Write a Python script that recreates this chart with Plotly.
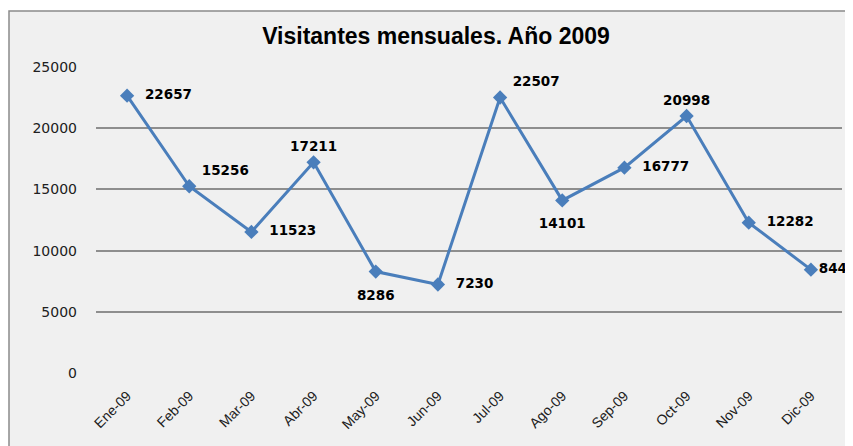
import plotly.graph_objects as go

months = ["Ene-09", "Feb-09", "Mar-09", "Abr-09", "May-09", "Jun-09",
          "Jul-09", "Ago-09", "Sep-09", "Oct-09", "Nov-09", "Dic-09"]
visitors = [22657, 15256, 11523, 17211, 8286, 7230,
            22507, 14101, 16777, 20998, 12282, 8443]
label_pos = ["middle right", "top right", "middle right", "top center",
             "bottom center", "middle right", "top right", "bottom center",
             "middle right", "top center", "middle right", "middle right"]
# labels that sit farther from their marker in the original
far_label = [True, False, True, False, True, True,
             False, True, True, False, True, False]
y_ticks = [0, 5000, 10000, 15000, 20000, 25000]
y_tick_text = ["0", "5000", "10000", "15000", "20000", "25000"]

# the page body has an 8px margin, so the figure starts at (8, 8)
OFF = 8
W, H = 853 - OFF, 446 - OFF
L, R = 96 - OFF, 11
T = 67 - OFF
B = H - (373 - OFF)
pw, ph = W - L - R, H - T - B

def px(x):
    return (x - OFF - L) / pw

def py(y):
    return (H - B - (y - OFF)) / ph

LABEL_FONT = dict(family="DejaVu Sans", size=13.5, color="#000000")
NBSP = "\u00a0"

near_text = [("" if f else (NBSP + str(v) if p == "top right" else str(v)))
             for v, p, f in zip(visitors, label_pos, far_label)]
far_text = [(str(v) if f else "") for v, f in zip(visitors, far_label)]

fig = go.Figure()
fig.add_trace(go.Scatter(
    x=months, y=visitors,
    mode="lines+markers+text",
    text=near_text,
    textposition=label_pos,
    textfont=LABEL_FONT,
    texttemplate="<b>%{text}</b>",
    line=dict(color="#4A7EBB", width=3),
    marker=dict(symbol="diamond", size=11, color="#4A7EBB"),
    cliponaxis=False,
    showlegend=False,
    hoverinfo="skip",
))
fig.add_trace(go.Scatter(
    x=months, y=visitors,
    mode="markers+text",
    text=far_text,
    textposition=label_pos,
    textfont=LABEL_FONT,
    texttemplate="<b>%{text}</b>",
    marker=dict(symbol="circle", size=27, color="rgba(0,0,0,0)"),
    cliponaxis=False,
    showlegend=False,
    hoverinfo="skip",
))

fig.update_layout(
    width=W, height=H,
    margin=dict(l=L, r=R, t=T, b=B),
    paper_bgcolor="#FFFFFF",
    plot_bgcolor="rgba(0,0,0,0)",
    title=dict(text="<b>Visitantes mensuales. Año 2009</b>",
               font=dict(family="Liberation Sans", size=23, color="#000000"),
               xref="container", x=(436 - OFF) / W, xanchor="center",
               yref="container", y=1 - (36 - OFF) / H, yanchor="middle"),
    shapes=[dict(type="rect", xref="paper", yref="paper", layer="below",
                 x0=px(9), x1=px(880), y0=py(470), y1=py(11),
                 fillcolor="#F0F0F0", line=dict(color="#8A8A8A", width=1.5))],
    xaxis=dict(range=[-0.5, 11.5], showgrid=False, zeroline=False,
               showline=False, ticks="", tickangle=-45,
               tickfont=dict(family="Liberation Sans", size=14, color="#202020"),
               ticklabelstandoff=11),
    yaxis=dict(range=[0, 25000], tickvals=y_ticks, ticktext=y_tick_text,
               showgrid=True, gridcolor="#8E8E8E", gridwidth=1.5,
               zeroline=False, showline=False, ticks="",
               tickfont=dict(family="DejaVu Sans", size=14, color="#202020"),
               ticklabelstandoff=18),
)

fig.write_html("out.html")
